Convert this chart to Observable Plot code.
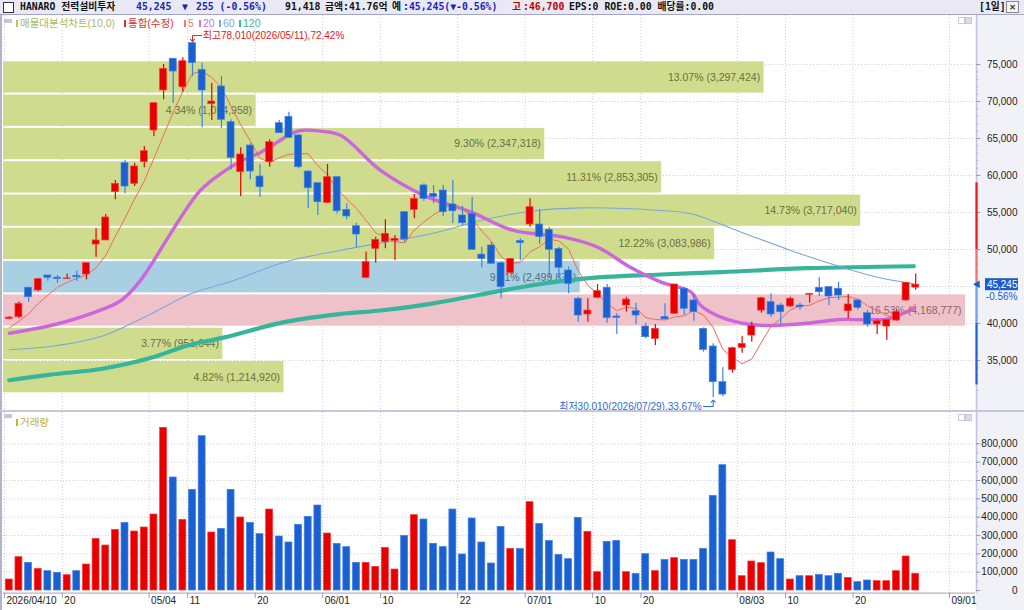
<!DOCTYPE html>
<html><head><meta charset="utf-8">
<script src="https://cdn.jsdelivr.net/npm/d3@7"></script>
<script src="https://cdn.jsdelivr.net/npm/@observablehq/plot@0.6"></script>
<style>
html,body{margin:0;padding:0;background:#fff;}
#wrap{position:relative;width:1024px;height:610px;overflow:hidden;font-family:"Liberation Sans","Noto Sans CJK KR",sans-serif;}
#hdr{position:absolute;left:0;top:0;width:1024px;height:14px;background:#e9e9f5;border-bottom:1px solid #a4a4c4;font-family:"DejaVu Sans Mono","Noto Sans CJK KR",monospace;font-weight:bold;font-size:9.8px;color:#111;}
#hdr span{position:absolute;top:1px;white-space:nowrap;line-height:12px;}
.abs{position:absolute;white-space:nowrap;}
.leg{position:absolute;top:17px;font-size:10.5px;line-height:13px;white-space:nowrap;}
.mk{display:inline-block;width:2px;height:7px;margin-right:2px;vertical-align:0px;}
svg{display:block}
</style></head><body>
<div id="wrap">
  <div id="axisbg" class="abs" style="left:976px;top:15px;width:48px;height:595px;background:#f1f1f8;"></div>
  <div id="leftline" class="abs" style="left:0;top:15px;width:2px;height:595px;background:#b4b4c8;"></div>
  <div id="price" class="abs" style="left:0;top:15px;"></div>
  <div id="sep" class="abs" style="left:0;top:410px;width:1024px;height:2px;background:#c6c6de;"></div>
  <div id="vol" class="abs" style="left:0;top:412px;"></div>
  <div id="hdr"></div>
  <div id="legend"></div>
</div>
<script>
// ---------------- data ----------------
const stockName = "HANARO 전력설비투자";
const lastVolumeText = "91,418";
const amountText = "금액:41.76억";
const expectText = ":45,245(▼-0.56%)";
const highText = ":46,700";
const extraText = "EPS:0 ROE:0.00 배당률:0.00";

const open  = [40600,40850,44830,44460,46490,46200,46000,46450,46620,50670,51220,57750,61660,58880,61800,66080,71490,75770,71930,77880,74280,69640,72030,67200,60450,64050,59860,61800,67070,67930,65410,60540,58960,56310,59770,55360,53150,46170,50090,50990,51180,55040,55360,58650,57530,57970,56080,54600,54820,49300,50540,48150,46800,51130,53380,53380,52660,50050,47160,43340,41220,43470,44820,40950,42430,41660,39590,37930,40860,41310,44690,43110,39280,36890,32070,33740,36710,38370,41750,42880,42430,42300,42430,43870,44820,44910,44690,41660,43110,41390,39860,39590,40400,43110,44850];
const high  = [40900,42900,44900,46100,46500,46500,46700,47050,48150,52800,54730,59320,62030,61660,63920,69800,75000,75800,75900,78010,75180,72470,73380,67530,63740,64280,61490,64820,67430,68560,65500,60600,59000,61490,59800,56180,53550,49650,51670,54010,51890,55100,57430,58900,58650,58650,59320,55850,57070,50320,50990,48300,48800,51450,56850,55360,53010,50300,47610,43550,43340,45270,45270,41310,43550,42740,40040,39860,42660,45300,44900,43920,39400,37250,34010,36800,38240,40180,43550,44010,42700,43550,42750,44050,46180,44950,45580,43920,43300,41800,40500,40500,41800,45500,46700];
const low   = [40500,40650,42880,44300,45720,45450,45950,45720,45900,48960,51200,56710,57530,58510,61040,65270,70230,69770,71260,73380,66450,67430,66310,60770,57160,59420,57060,61120,65720,65000,60900,55500,54600,56200,54800,54010,50230,46040,48150,50090,48510,50900,54150,56500,56180,54460,53470,53200,49900,47530,48000,43330,46700,48510,53010,50680,46260,46000,44010,40180,40180,43340,40040,38510,41540,39860,37930,37030,40540,41200,41130,40320,36130,30010,30100,33300,35990,37480,41400,40860,39860,42200,41800,42750,43650,42430,43110,40630,41800,39500,38510,37750,40300,43000,44500];
const close = [40800,42660,43550,45990,46180,46000,46100,46250,48150,51220,54330,58880,58510,61220,63280,69770,74420,74050,75450,75180,71490,70000,67530,62390,62840,60540,58420,64500,65720,65090,61120,58280,56390,59770,55170,54460,52030,48290,51310,52120,51450,51350,56850,56850,57070,55040,55170,53550,49960,48740,48070,44910,48740,50860,55720,51670,49960,47530,45360,41080,41750,44370,40720,40770,43240,41080,38150,39280,40560,45270,41990,41530,36440,32070,30400,36660,37250,39640,43420,41220,41530,43340,42200,44010,44230,43650,43780,42570,42120,39860,40320,40500,41530,45500,45245];
const volume = [60000,181800,150900,118200,105500,96400,83600,105500,141800,281800,245500,330900,369100,321800,343600,414500,887300,616400,385500,549100,841800,316400,336400,549100,398200,369100,307300,441800,294500,261800,358200,401800,463600,310900,254500,236400,150900,150900,129100,232700,114500,298200,410900,387300,254500,236400,441800,196400,392700,261800,147300,347300,227300,227300,481800,363600,270900,194500,170900,396400,320000,100000,265500,270900,100000,90900,198200,105500,167300,176400,167300,167300,227300,516400,683600,274500,78200,158200,149100,207300,170900,60000,78200,78200,85500,78200,90900,69100,45500,54500,50900,50900,105500,185500,91418];

// moving averages
const ma5 = [39400,40300,41300,42700,43840,44880,45560,46100,46540,47540,49210,51770,54220,56830,59240,62330,65440,68550,71390,73770,74120,73230,71930,69320,66850,64660,62340,61740,62400,62850,62970,62940,61320,60130,58150,56810,55560,53940,52250,51640,51040,50900,52620,53720,54710,55430,56200,55540,54160,52490,51100,49050,48080,48260,49660,50380,51390,51150,50050,47120,45140,44020,42660,41740,42180,42040,40800,40530,40480,40880,41060,41740,41150,39460,36490,35420,34560,35200,37470,39640,40610,41830,42340,42460,43060,43490,43570,43650,43270,42400,41730,41070,40870,41540,42620];
const ma20Idx = [0,4.3,8.4,11.6,13.6,15.7,17.8,19.8,21.9,24,26.1,27.8,29.2,30.2,32.3,34.4,38.5,43,47.9,52.3,57.5,61,64.4,67.6,70.7,71.7,73.8,76.9,79.3,82.8,86.2,89,91.1,93.8];
const ma20Val = [38680,39730,41310,43110,45810,50000,54360,57970,60230,61940,63150,64500,65630,66080,65990,65410,60680,57300,55040,52570,51670,50320,47610,45600,44230,42430,40860,39860,39730,40040,40540,40500,40630,41990];
const ma60Idx = [0,5,9.5,14.7,18.8,23.3,28.5,34.4,43.7,48.9,54.1,59.3,67.6,70.7,75.9,81.1,85.2,89.7,93.8];
const ma60Val = [36450,37030,38240,41300,44010,45810,48290,49900,52120,53920,55170,55630,55270,54820,52340,49840,48070,46350,45360];
const ma120Idx = [0,4.3,9.5,14.7,18.5,22.1,28.5,34.4,38.5,43.7,48.9,54.1,59.3,67.6,73.8,82.8,93.8];
const ma120Val = [32330,33100,33850,35360,37030,38060,40180,41300,41760,42660,43920,45140,46040,46620,46940,47470,47740];

// volume-profile (매물대) bands
const bandLow  = [30500,35000,39500,44000,48500,53000,57500,62000,66500,71000];
const bandStep = 4500;
const bandPct  = [4.82,3.77,16.53,9.91,12.22,14.73,11.31,9.30,4.34,13.07];
const bandVol  = [1214920,951044,4168777,2499871,3083986,3717040,2853305,2347318,1094958,3297424];

// axes
const priceTicks = [35000,40000,45000,50000,55000,60000,65000,70000,75000];
const volTicks = [0,100000,200000,300000,400000,500000,600000,700000,800000];
const dateTickIdx = [0,6,15,19,26,33,39,47,54,61,66,76,81,88,98];
const dateTickLabel = ["2026/04/10","20","05/04","11","20","06/01","10","22","07/01","10","20","08/03","10","20","09/01"];
const maxDate = "2026/05/11", minDate = "2026/07/29";
const rangeTop = 59000, rangeMid1 = 50000, rangeMid2 = 40000, rangeBottom = 31700;

// ---------------- header & legend (html text) ----------------
const hdr = document.getElementById("hdr");
const hItems = [
  [20,"#111",stockName],[136,"#1a24b8","45,245"],[182,"#1a24b8","▼"],[196,"#1a24b8","255 (-0.56%)"],
  [285,"#111",lastVolumeText],[325,"#111",amountText],[392,"#111","예"],[403,"#1a24b8",expectText],
  [512,"#c00000","고"],[523,"#c00000",highText],[569,"#111",extraText],[979,"#111","[1일]"]
];
hdr.innerHTML = `<div class="abs" style="left:3px;top:2px;width:9px;height:9px;border:1px solid #333;background:#fff"></div>` +
  hItems.map(([l,c,t])=>`<span style="left:${l}px;color:${c}">${t}</span>`).join("") +
  `<div class="abs" style="left:1006px;top:1px;width:11px;height:10px;border:1px solid #888;background:#f4f4f4;font:bold 9px 'DejaVu Sans';line-height:10px;text-align:center;color:#333">×</div>`;

const legItems = [
  [16,"#b9c66e","#aab860","매물대분석차트(10,0)"],[124,"#e03030","#e03030","통합(수정)"],
  [184,"#f07a7a","#f07a7a","5"],[199,"#c878e0","#c878e0","20"],[219,"#7aa6e0","#7aa6e0","60"],[239,"#3ab89c","#3ab89c","120"]
];
document.getElementById("legend").innerHTML =
  `<div class="abs" style="left:4px;top:19px;width:8px;height:4px;background:#c4c4dc"></div>` +
  legItems.map(([l,m,c,t])=>`<span class="leg" style="left:${l}px;color:${c}"><span class="mk" style="background:${m}"></span>${t}</span>`).join("") +
  `<div class="abs" style="left:4px;top:414px;width:8px;height:4px;background:#c4c4dc"></div>` +
  `<span class="leg" style="left:16px;top:416px;color:#c4b43a"><span class="mk" style="background:#c4b43a"></span>거래량</span>` +
  `<div class="abs" style="left:958px;top:17px;width:5px;height:5px;border:1px solid #c8c8d8"></div><div class="abs" style="left:965px;top:17px;width:5px;height:5px;border:1px solid #c8c8d8;background:#dcdce8"></div>` +
  `<div class="abs" style="left:958px;top:414px;width:5px;height:5px;border:1px solid #c8c8d8"></div><div class="abs" style="left:965px;top:414px;width:5px;height:5px;border:1px solid #c8c8d8;background:#dcdce8"></div>`;

// ---------------- chart ----------------
const RED = "#e60000", BLUE = "#1b60d0", BLUE_E = "#3f82e6", RED_E = "#ff3a3a";
const GRID = "#cdcde0";
const fontSans = "'Liberation Sans','Noto Sans CJK KR',sans-serif";
const XD = [-0.6, 100.2];
const fmt = d3.format(",");
const candles = close.map((c,i)=>({i, o:open[i], h:high[i], l:low[i], c, v:volume[i], up: c>=open[i]}));
const last = close[close.length-1];
const maxPct = d3.max(bandPct);
const curBand = bandLow.findIndex(lo => last >= lo && last < lo + bandStep);
const maxBand = bandPct.indexOf(maxPct);
const bands = bandLow.map((lo,j)=>({
  lo, hi: lo + bandStep, mid: lo + bandStep/2,
  x2: XD[0] + bandPct[j]/maxPct*(XD[1]-XD[0])*0.9897,
  label: `${bandPct[j].toFixed(2)}% (${fmt(bandVol[j])})`,
  fill: j===maxBand ? "#efc2c9" : j===curBand ? "#a9cfe2" : "#cfdc8d",
  tfill: j===maxBand ? "#8c6270" : j===curBand ? "#4e6c88" : "#6e6e40"
}));
const series = (ix, vals) => ix.map((k,j)=>({k, v: vals[j]}));
const maxI = d3.maxIndex(high), minI = d3.minIndex(low);
const hi = high[maxI], lo = low[minI];
const upPct = ((hi-last)/last*100).toFixed(2), dnPct = ((last-lo)/last*100).toFixed(2);
const maxArrow = [{x:maxI+0.95,y:hi+900},{x:maxI,y:hi+900},{x:maxI,y:hi+250}];
const minArrow = [{x:minI-1.0,y:lo-1230},{x:minI,y:lo-1230},{x:minI,y:lo-500}];
const tickPos = dateTickIdx.map(i=>i-0.5);
const dateTicks = dateTickIdx.map((k,j)=>({x:k-0.5, label: dateTickLabel[j]}));
const minorPrice = d3.range(31000, 76000, 1000);
const minorVol = d3.range(0, 850000, 50000);

const price = Plot.plot({
  width:1024, height:395, marginLeft:3, marginRight:49, marginTop:0, marginBottom:0,
  x:{type:"linear", domain:XD, range:[3,975], axis:null},
  y:{type:"linear", domain:[30000,75000], range:[382,49], axis:null},
  style:{background:"transparent", overflow:"visible", fontFamily:fontSans},
  marks:[
    Plot.ruleY(priceTicks,{stroke:GRID, strokeDasharray:"1,2"}),
    Plot.ruleX(tickPos,{stroke:GRID, strokeDasharray:"1,2"}),
    Plot.rect(bands,{x1:()=>XD[0], x2:"x2", y1:"lo", y2:"hi", fill:"fill", insetTop:1, insetBottom:1}),
    Plot.text(bands,{x:"x2", y:"mid", text:"label", fill:"tfill", textAnchor:"end", dx:-4, fontSize:10.5}),
    Plot.line(series(ma120Idx,ma120Val),{x:"k", y:"v", stroke:"#36b59a", strokeWidth:4.2, curve:"monotone-x"}),
    Plot.line(series(ma60Idx,ma60Val),{x:"k", y:"v", stroke:"#7aa6e0", strokeWidth:1.1, curve:"catmull-rom"}),
    Plot.line(series(ma20Idx,ma20Val),{x:"k", y:"v", stroke:"#cc66dd", strokeWidth:3.4, curve:"catmull-rom"}),
    Plot.line(ma5.map((v,k)=>({k,v})),{x:"k", y:"v", stroke:"#f06a5a", strokeWidth:1}),
    Plot.ruleX(candles,{x:"i", y1:"l", y2:"h", stroke:d=>d.up?RED:BLUE_E, strokeWidth:1.2}),
    Plot.rect(candles,{x1:d=>d.i-0.36, x2:d=>d.i+0.36, y1:"o", y2:"c", fill:d=>d.up?RED:BLUE, stroke:d=>d.up?RED_E:BLUE_E, strokeWidth:0.7}),
    // max / min annotations
    Plot.line(maxArrow,{x:"x", y:"y", stroke:"#e02020", strokeWidth:1, markerEnd:"arrow"}),
    Plot.text([hi],{x:()=>maxI+0.95, y:()=>hi+900, text:()=>`최고${fmt(hi)}(${maxDate}),${upPct}%`, textAnchor:"start", dx:1, fill:"#e02020", fontSize:10}),
    Plot.line(minArrow,{x:"x", y:"y", stroke:"#2f6ad0", strokeWidth:1, markerEnd:"arrow"}),
    Plot.text([lo],{x:()=>minI-1.0, y:()=>lo-1230, text:()=>`최저${fmt(lo)}(${minDate}),${dnPct}%`, textAnchor:"end", dx:-2, fill:"#2f6ad0", fontSize:10}),
    // right axis
    Plot.ruleX([XD[1]],{dx:1, stroke:"#c2c2dc", strokeWidth:1.5}),
    Plot.ruleY(minorPrice,{x1:()=>XD[1], x2:()=>XD[1]+0.25, dx:1, stroke:"#b8b8d0"}),
    Plot.ruleY(priceTicks,{x1:()=>XD[1], x2:()=>XD[1]+0.45, dx:1, stroke:"#9a9ab8"}),
    Plot.ruleX([XD[1]],{y1:()=>rangeTop, y2:()=>rangeMid1, dx:1, stroke:"#e81818", strokeWidth:2.2}),
    Plot.ruleX([XD[1]],{y1:()=>rangeMid1, y2:()=>last, dx:1, stroke:"#f27070", strokeWidth:2.2}),
    Plot.ruleX([XD[1]],{y1:()=>last, y2:()=>rangeMid2, dx:1, stroke:"#6fa2e8", strokeWidth:2.2}),
    Plot.ruleX([XD[1]],{y1:()=>rangeMid2, y2:()=>rangeBottom, dx:1, stroke:"#1f62d4", strokeWidth:2.2}),
    Plot.text(priceTicks,{y:d=>d, text:d=>fmt(d), frameAnchor:"right", dx:42, textAnchor:"end", fill:"#222", fontSize:10}),
    Plot.rect([last],{x1:()=>XD[1], x2:()=>XD[1], y1:d=>d, y2:d=>d, insetLeft:10, insetRight:-43, insetTop:-6, insetBottom:-6, fill:"#1a5ccc"}),
    Plot.text([last],{y:d=>d, text:d=>fmt(d), frameAnchor:"right", dx:42, textAnchor:"end", fill:"#fff", fontSize:10}),
    Plot.text([last],{y:d=>d, text:()=>"◀", frameAnchor:"right", dx:5, fill:"#1a5ccc", fontSize:8}),
    Plot.text([last],{y:d=>d, text:()=>`${((close[close.length-1]-close[close.length-2])/close[close.length-2]*100).toFixed(2)}%`, frameAnchor:"right", dx:42, dy:12, textAnchor:"end", fill:"#1a5ccc", fontSize:10})
  ]
});
document.getElementById("price").appendChild(price);

const vol = Plot.plot({
  width:1024, height:198, marginLeft:3, marginRight:49, marginTop:0, marginBottom:17.3,
  x:{type:"linear", domain:XD, range:[3,975], axis:null},
  y:{type:"linear", domain:[0,900000], range:[178,13], axis:null},
  style:{background:"transparent", overflow:"visible", fontFamily:fontSans},
  marks:[
    Plot.ruleY(volTicks.slice(1),{stroke:GRID, strokeDasharray:"1,2"}),
    Plot.ruleX(tickPos,{stroke:GRID, strokeDasharray:"1,2"}),
    Plot.rect(candles,{x1:d=>d.i-0.36, x2:d=>d.i+0.36, y1:()=>0, y2:"v", fill:d=>d.up?RED:BLUE, stroke:d=>d.up?RED_E:BLUE_E, strokeWidth:0.7}),
    Plot.ruleY([0],{x1:()=>XD[0], x2:()=>XD[1], dy:2.7, stroke:"#b4b4cc", strokeWidth:1.2}),
    Plot.ruleX(tickPos,{y1:()=>0, y2:()=>0, insetTop:2.7, insetBottom:-8, stroke:"#9a9ab8"}),
    Plot.text(dateTicks,{x:"x", text:"label", frameAnchor:"bottom", dy:10.5, dx:2, textAnchor:"start", fill:"#222", fontSize:10}),
    Plot.ruleX([XD[1]],{dx:1, stroke:"#c2c2dc", strokeWidth:1.5}),
    Plot.ruleY(minorVol,{x1:()=>XD[1], x2:()=>XD[1]+0.25, dx:1, stroke:"#b8b8d0"}),
    Plot.ruleY(volTicks,{x1:()=>XD[1], x2:()=>XD[1]+0.45, dx:1, stroke:"#9a9ab8"}),
    Plot.text(volTicks,{y:d=>d, text:d=>fmt(d), frameAnchor:"right", dx:42, textAnchor:"end", fill:"#222", fontSize:10})
  ]
});
document.getElementById("vol").appendChild(vol);
</script>
</body></html>
